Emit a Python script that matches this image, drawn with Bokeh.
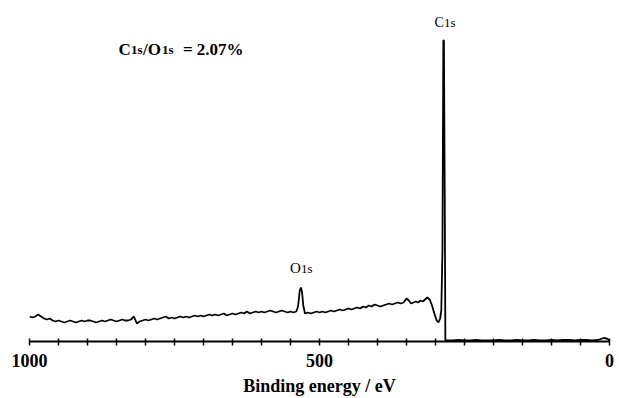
from bokeh.plotting import figure
from bokeh.models import Range1d, FixedTicker, Label
from bokeh.embed import file_html
from bokeh.resources import INLINE

# Binding energy (eV) and intensity (arbitrary units)
energy_bg = [1000, 995, 990, 985, 980, 975, 970, 965, 960, 955, 950, 945, 940, 935, 930, 925,
             920, 915, 910, 905, 900, 895, 890, 885, 880, 875, 870, 865, 860, 855, 850, 845,
             840, 835, 830, 825, 820, 815, 810, 805, 800, 795, 790, 785, 780, 775, 770, 765,
             760, 755, 750, 745, 740, 735, 730, 725, 720, 715, 710, 705, 700, 695, 690, 685,
             680, 675, 670, 665, 660, 655, 650, 645, 640, 635, 630, 625, 620, 615, 610, 605,
             600, 595, 590, 585, 580, 575, 570, 565, 560, 555, 550, 545]
intensity_bg = [2.5, 2.4, 2.5, 2.7, 2.5, 2.3, 2.2, 2.3, 2.1, 2.0, 2.1, 2.0, 1.9, 2.0, 2.1, 2.0,
                1.9, 2.0, 2.1, 2.0, 2.1, 2.1, 2.0, 1.9, 2.0, 2.1, 2.0, 2.1, 2.2, 2.1, 2.0, 2.1,
                2.2, 2.1, 2.1, 2.2, 2.5, 1.8, 2.0, 2.1, 2.2, 2.1, 2.2, 2.3, 2.2, 2.3, 2.4, 2.5,
                2.3, 2.4, 2.3, 2.4, 2.5, 2.4, 2.5, 2.4, 2.5, 2.6, 2.5, 2.6, 2.5, 2.6, 2.7, 2.6,
                2.7, 2.6, 2.7, 2.8, 2.6, 2.7, 2.8, 2.7, 2.8, 2.9, 2.8, 3.0, 2.8, 2.9, 3.0, 2.9,
                3.0, 2.9, 3.0, 3.1, 3.0, 2.9, 3.0, 3.1, 3.0, 2.9, 3.0, 2.9]

energy_peaks = [540, 537, 534, 532, 530, 528, 525, 520, 515, 510, 505, 500, 495, 490, 485, 480,
                475, 470, 465, 460, 455, 450, 445, 440, 435, 430, 425, 420, 415, 410, 405, 400,
                395, 390, 385, 380, 375, 370, 365, 360, 355, 350, 346, 342, 338, 334, 330, 326,
                322, 318, 314, 310, 306, 302, 298, 295, 292, 290, 288, 286.5, 285.5, 284, 283]
intensity_peaks = [3.0, 3.5, 5.1, 5.4, 4.9, 3.6, 2.8, 2.9, 2.8, 2.9, 3.0, 2.9, 3.0, 2.9, 3.0, 3.1,
                   3.0, 3.1, 3.2, 3.1, 3.2, 3.3, 3.2, 3.3, 3.4, 3.3, 3.5, 3.4, 3.6, 3.5, 3.7, 3.6,
                   3.5, 3.6, 3.7, 3.8, 3.7, 3.8, 3.9, 3.8, 3.9, 4.3, 4.1, 3.8, 3.9, 4.0, 3.9, 4.1,
                   4.0, 4.2, 4.4, 4.2, 3.6, 2.8, 2.1, 1.9, 2.3, 3.1, 9.1, 30.1, 30.1, 14.1, 0.1]

energy_low = [280, 270, 260, 250, 240, 230, 220, 210, 200, 190, 180, 170, 160, 150, 140, 130,
              120, 110, 100, 90, 80, 70, 60, 50, 40, 30, 20, 15, 10, 5, 2, 0]
intensity_low = [0.1, 0.1, 0.15, 0.1, 0.1, 0.15, 0.1, 0.1, 0.1, 0.15, 0.1, 0.1, 0.15, 0.1, 0.1, 0.15,
                 0.1, 0.1, 0.15, 0.1, 0.15, 0.15, 0.1, 0.15, 0.15, 0.1, 0.15, 0.25, 0.35, 0.3, 0.2, 0.05]

energy = energy_bg + energy_peaks + energy_low
intensity = intensity_bg + intensity_peaks + intensity_low

tick_values = list(range(0, 1001, 50))
tick_labels = {0: "0", 500: "500", 1000: "1000"}

C1S_E, C1S_Y = 285.5, 31.95
O1S_E, O1S_Y = 532, 7.35

SERIF = "Liberation Serif"

p = figure(width=619, height=398, output_backend="svg", toolbar_location=None,
           x_range=Range1d(1000, 0), y_range=Range1d(0, 34.1),
           y_axis_location=None, min_border_left=29, min_border_right=10,
           min_border_top=0, min_border_bottom=57)
p.outline_line_color = None
p.xgrid.visible = False
p.ygrid.visible = False

p.line(energy, intensity, line_color="black", line_width=1.8)

ax = p.xaxis[0]
ax.ticker = FixedTicker(ticks=tick_values)
ax.major_label_overrides = {v: tick_labels.get(v, "") for v in tick_values}
ax.minor_tick_line_color = None
ax.major_tick_in = 3
ax.major_tick_out = 4
ax.major_tick_line_width = 1.5
ax.major_tick_line_color = "black"
ax.axis_line_width = 2
ax.axis_line_color = "black"
ax.major_label_text_font = SERIF
ax.major_label_text_font_style = "bold"
ax.major_label_text_font_size = "18px"
ax.major_label_text_color = "black"
ax.major_label_standoff = 8
ax.axis_label = "Binding energy / eV"
ax.axis_label_text_font = SERIF
ax.axis_label_text_font_style = "bold"
ax.axis_label_text_font_size = "18px"
ax.axis_label_text_color = "black"
ax.axis_label_standoff = 6

def lab(x, y, text, size, align, style="normal"):
    p.add_layout(Label(x=x, y=y, text=text, text_font=SERIF, text_font_size=size,
                       text_font_style=style, text_align=align, text_baseline="alphabetic",
                       text_color="black"))

# peak labels
lab(C1S_E, C1S_Y, "C", "14px", "right")
lab(C1S_E, C1S_Y, "1s", "13px", "left")
lab(O1S_E, O1S_Y, "O", "15px", "right")
lab(O1S_E, O1S_Y, "1s", "13px", "left")

# ratio annotation
ANN_Y = 29.25
lab(846.5, ANN_Y, "C", "17px", "left", "bold")
lab(825.0, ANN_Y, "1s", "13px", "left", "bold")
lab(804.3, ANN_Y, "/O", "17px", "left", "bold")
lab(771.6, ANN_Y, "1s", "13px", "left", "bold")
lab(735.5, ANN_Y, "= 2.07%", "17px", "left", "bold")

open("out.html", "w").write(file_html(p, INLINE))
